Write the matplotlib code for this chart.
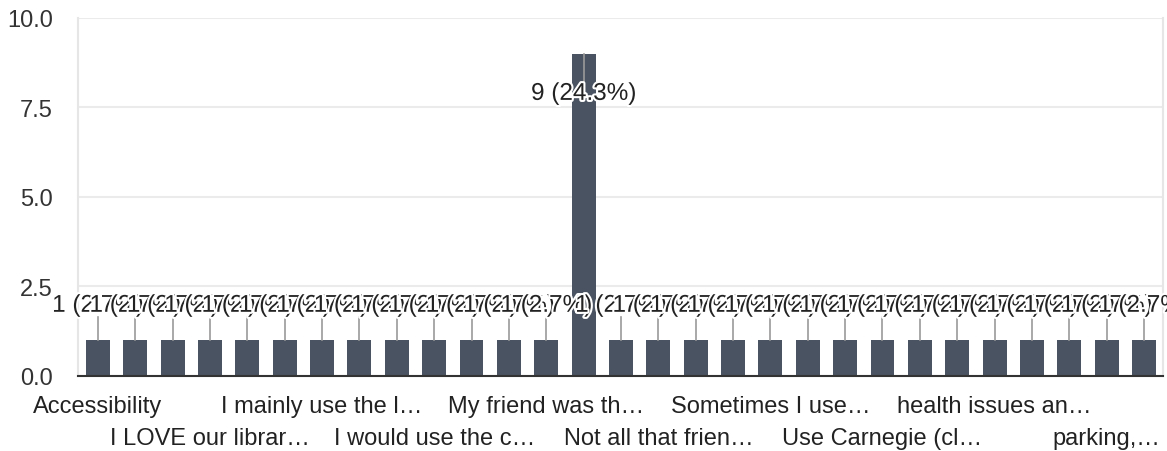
import matplotlib.pyplot as plt
import matplotlib.patheffects as pe

plt.rcParams['font.family'] = ['Liberation Sans', 'DejaVu Sans']

# 29 answers, sorted, only every third label is shown
counts = [1, 1, 1, 1, 1, 1, 1, 1, 1, 1, 1, 1, 1, 9, 1,
          1, 1, 1, 1, 1, 1, 1, 1, 1, 1, 1, 1, 1, 1]
tick_pos = [0, 3, 6, 9, 12, 15, 18, 21, 24, 27]
tick_labels = ["Accessibility", "I LOVE our librar…", "I mainly use the l…",
               "I would use the c…", "My friend was th…", "Not all that frien…",
               "Sometimes I use…", "Use Carnegie (cl…", "health issues an…",
               "parking,…"]
total = sum(counts)

fig = plt.figure(figsize=(11.67, 4.52), dpi=100)
ax = fig.add_axes([0.0668, 0.166, 0.9298, 0.792])

x = list(range(len(counts)))
ax.bar(x, counts, width=0.64, color="#4a5361", zorder=2)

ax.set_xlim(-0.535, len(counts) - 0.49)
ax.set_ylim(0, 10)
ax.set_yticks([0, 2.5, 5, 7.5, 10])
ax.set_yticklabels(["0.0", "2.5", "5.0", "7.5", "10.0"])
ax.yaxis.grid(True, color="#ebebeb", linewidth=1.5, zorder=0)
ax.tick_params(axis="y", length=0, pad=18, labelsize=17, labelcolor="#333333")

# two rows of category labels
ax.set_xticks(tick_pos[0::2])
ax.set_xticklabels(tick_labels[0::2])
ax.set_xticks(tick_pos[1::2], minor=True)
ax.set_xticklabels(tick_labels[1::2], minor=True)
ax.tick_params(axis="x", which="major", length=0, pad=13.5, labelsize=17, labelcolor="#222222")
ax.tick_params(axis="x", which="minor", length=0, pad=37, labelsize=17, labelcolor="#222222")

for s in ["left", "right"]:
    ax.spines[s].set_color("#e6e6e6")
    ax.spines[s].set_linewidth(1.5)
ax.spines["top"].set_visible(False)
ax.spines["bottom"].set_color("#333333")
ax.spines["bottom"].set_linewidth(1.5)
ax.spines["bottom"].set_zorder(3)

halo = [pe.withStroke(linewidth=3, foreground="white")]
for i, c in enumerate(counts):
    lbl = "%d (%.1f%%)" % (c, c / total * 100)
    if c > 5:
        ax.plot([i, i], [c, c - 0.9], color="#9a9a9a", lw=1.2, zorder=3)
        ty = c - 1.12
    else:
        ax.plot([i, i], [c, c + 0.65], color="#9a9a9a", lw=1.2, zorder=3)
        ty = c + 0.96
    ax.text(i, ty, lbl, ha="center", va="center", fontsize=17.5, color="#222222",
            path_effects=halo, zorder=4, clip_on=False)

fig.savefig("out.png", dpi=100)
